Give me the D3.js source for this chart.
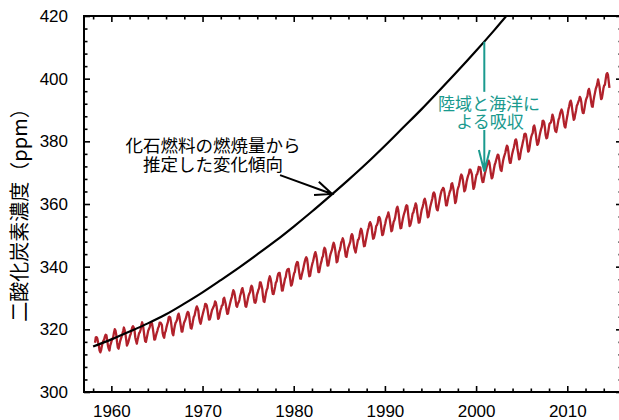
<!DOCTYPE html>
<html>
<head>
<meta charset="utf-8">
<script src="https://cdn.jsdelivr.net/npm/d3@7"></script>
<style>
  html, body { margin: 0; padding: 0; background: #fff; }
  svg { display: block; }
</style>
</head>
<body>
<svg id="chart" width="619" height="420"></svg>
<script>
// ---- Data ----
const co2StartYear = 1958;
const co2StartMonth = 3; // March 1958
const co2Monthly = [
  315.71,317.45,317.50,317.10,315.86,314.93,313.20,312.66,313.33,314.67,
  315.62,316.38,316.71,317.72,318.29,318.15,316.54,314.80,313.84,313.26,314.80,315.58,
  316.43,316.97,317.58,319.02,320.03,319.59,318.18,315.91,314.16,313.83,315.00,316.19,
  316.93,317.70,318.54,319.48,320.58,319.77,318.57,316.79,314.80,315.38,316.10,317.01,
  317.94,318.56,319.68,320.63,321.01,320.55,319.58,317.40,316.26,315.42,316.69,317.69,
  318.74,319.08,319.86,321.39,322.25,321.47,319.74,317.77,316.21,315.99,317.12,318.31,
  319.57,320.07,320.73,321.77,322.25,321.89,320.44,318.70,316.70,316.79,317.79,318.71,
  319.44,320.44,320.89,322.13,322.16,321.87,321.39,318.81,317.81,317.30,318.87,319.42,
  320.62,321.59,322.39,323.87,324.01,323.75,322.39,320.37,318.64,318.10,319.79,321.08,
  322.07,322.50,323.04,324.42,325.00,324.09,322.55,320.92,319.31,319.31,320.72,321.96,
  322.57,323.15,323.89,325.02,325.57,325.36,324.14,322.03,320.41,320.25,321.31,322.84,
  324.00,324.42,325.64,326.66,327.34,326.76,325.88,323.67,322.38,321.78,322.85,324.11,
  325.03,325.99,326.87,328.13,328.07,327.66,326.35,324.69,323.10,323.16,323.98,325.13,
  326.17,326.68,327.18,327.78,328.92,328.57,327.34,325.46,323.36,323.57,324.80,326.01,
  326.77,327.63,327.75,329.72,330.07,329.09,328.05,326.32,324.93,325.06,326.50,327.55,
  328.54,329.56,330.30,331.50,332.48,332.07,330.87,329.31,327.51,327.18,328.16,328.64,
  329.35,330.71,331.48,332.65,333.16,332.06,330.99,329.17,327.41,327.20,328.33,329.50,
  330.68,331.41,331.85,333.29,333.91,333.40,331.78,329.88,328.57,328.46,329.26,330.97,
  331.70,332.66,333.13,334.95,334.99,334.09,333.06,330.68,328.95,328.75,330.15,331.62,
  332.66,333.13,334.95,336.13,336.93,336.17,334.88,332.56,331.29,331.27,332.41,333.60,
  334.95,335.25,336.66,337.69,338.03,338.01,336.41,334.41,332.37,332.41,333.75,334.90,
  336.14,336.69,338.27,338.96,339.21,339.26,337.54,335.75,333.98,334.19,335.31,336.81,
  337.90,338.34,340.01,340.93,341.48,341.33,339.40,337.70,336.19,336.15,337.27,338.32,
  339.29,340.55,341.61,342.53,343.03,342.54,340.78,338.44,336.95,337.08,338.58,339.88,
  340.96,341.73,342.81,343.97,344.63,343.79,342.32,340.09,338.28,338.29,339.60,340.90,
  341.68,342.90,343.33,345.25,346.03,345.63,344.19,342.27,340.35,340.38,341.59,343.05,
  344.10,344.79,345.52,346.84,347.63,346.97,345.53,343.55,341.40,341.67,343.10,344.70,
  345.21,346.16,347.74,348.33,349.06,348.38,346.72,345.02,343.27,343.13,344.49,345.88,
  346.56,347.28,348.01,349.77,350.38,349.93,348.16,346.08,345.22,344.51,345.93,347.22,
  348.52,348.73,349.73,351.31,352.09,351.53,350.11,348.08,346.52,346.59,347.96,349.16,
  350.39,351.64,352.40,353.69,354.21,353.72,352.69,350.40,348.92,349.13,350.20,351.41,
  352.91,353.27,353.96,355.64,355.86,355.37,353.99,351.81,350.05,350.25,351.49,352.85,
  353.80,355.04,355.73,356.32,357.32,356.34,354.84,353.01,351.31,351.62,353.07,354.33,
  354.84,355.73,357.23,358.66,359.13,358.13,356.19,353.85,352.25,352.35,353.81,355.12,
  356.25,357.11,357.86,359.09,359.59,359.33,357.01,354.94,352.96,353.32,354.32,355.57,
  357.00,357.31,358.47,359.27,360.19,359.52,357.33,355.64,354.03,354.12,355.41,356.91,
  358.24,358.92,359.99,361.23,361.65,360.81,359.38,357.46,355.73,356.07,357.53,358.98,
  359.92,360.86,361.83,363.30,363.69,363.19,361.64,359.12,358.17,357.99,359.45,360.68,
  362.07,363.24,364.17,364.57,365.13,364.92,363.55,361.38,359.54,359.58,360.89,362.24,
  363.09,364.03,364.51,366.35,366.64,365.59,364.31,362.25,360.29,360.82,362.49,364.38,
  365.26,365.98,367.24,368.66,369.42,368.99,367.82,365.95,364.02,364.40,365.52,367.13,
  368.18,369.07,369.68,370.99,370.96,370.30,369.45,366.90,364.81,365.37,366.72,368.10,
  369.29,369.54,370.60,371.82,371.58,371.70,369.86,368.13,367.00,367.03,368.37,369.67,
  370.59,371.51,372.43,373.37,373.85,373.21,371.51,369.61,368.18,368.45,369.76,371.24,
  372.53,373.20,374.12,375.02,375.76,375.52,374.01,371.85,370.75,370.55,372.25,373.79,
  374.88,375.64,376.45,377.73,378.60,378.28,376.70,374.38,373.17,373.15,374.66,375.99,
  377.00,377.87,378.88,380.35,380.62,379.69,377.47,376.01,374.25,374.46,376.16,377.51,
  378.46,379.73,380.77,382.29,382.45,382.21,380.74,378.74,376.70,377.00,378.35,380.11,
  381.38,382.19,382.67,384.61,385.03,384.05,382.46,380.41,378.85,379.13,380.15,381.82,
  382.89,383.90,384.58,386.50,386.56,386.10,384.50,381.99,380.96,381.12,382.45,383.95,
  385.52,385.82,386.03,387.21,388.54,387.76,386.36,384.09,383.18,382.99,384.19,385.56,
  386.94,387.48,388.82,389.55,390.14,389.48,388.03,386.11,384.74,384.43,386.02,387.42,
  388.71,390.20,391.17,392.46,393.00,392.15,390.20,388.35,386.85,387.24,388.67,389.79,
  391.33,391.86,392.60,393.25,394.19,393.74,392.51,390.13,389.08,389.00,390.28,391.86,
  393.12,393.86,394.40,396.18,396.74,395.71,394.36,392.39,391.11,391.05,392.98,394.34,
  395.55,396.80,397.43,398.41,399.78,398.60,397.32,395.20,393.45,393.70,395.16,396.84,
  397.85,398.01,399.77,401.38,401.78,401.25,399.10,397.03
];

const fossilYears = [1958,1960,1962,1964,1966,1968,1970,1972,1974,1976,1978,1980,1982,1984,1986,1988,1990,1992,1994,1996,1998,2000,2002,2004];
const fossilPpm   = [314.5,316.8,319.3,321.9,324.8,328.2,331.8,335.7,339.7,343.9,348.2,352.8,357.6,362.6,367.7,373.0,378.6,384.4,390.2,396.3,402.5,408.9,415.5,422.4];

const xTickLabels = [1960,1970,1980,1990,2000,2010];
const yTickLabels = [300,320,340,360,380,400,420];

const yTitle = "二酸化炭素濃度（ppm）";
const fossilLabel = ["化石燃料の燃焼量から", "推定した変化傾向"];
const sinkLabel = ["陸域と海洋に", "よる吸収"];

// ---- Chart ----
const svg = d3.select("#chart");
const L = 84, R = 622, T = 16, B = 392;
const x = d3.scaleLinear().domain([1957, 2016]).range([L, R]);
const y = d3.scaleLinear().domain([300, 420]).range([B, T]);

const numFont = "'Liberation Sans', Arial, Helvetica, sans-serif";
const jpFont = "'Noto Sans CJK JP', 'Noto Sans', sans-serif";

svg.append("defs").append("clipPath").attr("id", "plotclip")
  .append("rect").attr("x", L).attr("y", T).attr("width", R - L).attr("height", B - T);

// Red monthly CO2 line
const co2Data = co2Monthly.map((v, i) => ({
  t: co2StartYear + (co2StartMonth - 1 + i + 0.5) / 12,
  v
}));
svg.append("path")
  .datum(co2Data)
  .attr("clip-path", "url(#plotclip)")
  .attr("fill", "none")
  .attr("stroke", "#b1212b")
  .attr("stroke-width", 2.3)
  .attr("stroke-linejoin", "round")
  .attr("d", d3.line().x(d => x(d.t)).y(d => y(d.v)));

// Black fossil-fuel trend line
const fossilData = fossilYears.map((yr, i) => ({ t: yr, v: fossilPpm[i] }));
svg.append("path")
  .datum(fossilData)
  .attr("clip-path", "url(#plotclip)")
  .attr("fill", "none")
  .attr("stroke", "#000")
  .attr("stroke-width", 2.2)
  .attr("d", d3.line().curve(d3.curveMonotoneX).x(d => x(d.t)).y(d => y(d.v)));

// Axes (inward ticks)
function styleAxis(g) {
  g.select(".domain").remove();
  g.selectAll(".tick line").attr("stroke", "#000").attr("stroke-width", 1.6);
  g.selectAll("text").attr("font-family", numFont).attr("font-size", 17).attr("fill", "#000");
}
const xMinor = d3.range(1958, 2017, 2).filter(v => !xTickLabels.includes(v));
const yMinor = d3.range(300, 421, 4).filter(v => !yTickLabels.includes(v));

svg.append("g").attr("transform", `translate(0,${B})`)
  .call(d3.axisBottom(x).tickValues(xTickLabels).tickFormat(d3.format("d")).tickSize(-6).tickPadding(13))
  .call(styleAxis);
svg.append("g").attr("transform", `translate(0,${B})`)
  .call(d3.axisBottom(x).tickValues(xMinor).tickFormat("").tickSize(-3.5))
  .call(styleAxis);
svg.append("g").attr("transform", `translate(0,${T})`)
  .call(d3.axisTop(x).tickValues(xTickLabels).tickFormat("").tickSize(-6))
  .call(styleAxis);
svg.append("g").attr("transform", `translate(0,${T})`)
  .call(d3.axisTop(x).tickValues(xMinor).tickFormat("").tickSize(-3.5))
  .call(styleAxis);

svg.append("g").attr("transform", `translate(${L},0)`)
  .call(d3.axisLeft(y).tickValues(yTickLabels).tickSize(-6).tickPadding(16))
  .call(styleAxis);
svg.append("g").attr("transform", `translate(${L},0)`)
  .call(d3.axisLeft(y).tickValues(yMinor).tickFormat("").tickSize(-3.5))
  .call(styleAxis);
svg.append("g").attr("transform", `translate(${R},0)`)
  .call(d3.axisRight(y).tickValues(yTickLabels).tickFormat("").tickSize(-6))
  .call(styleAxis);
svg.append("g").attr("transform", `translate(${R},0)`)
  .call(d3.axisRight(y).tickValues(yMinor).tickFormat("").tickSize(-3.5))
  .call(styleAxis);

// Frame
svg.append("rect")
  .attr("x", L).attr("y", T).attr("width", R - L).attr("height", B - T)
  .attr("fill", "none").attr("stroke", "#000").attr("stroke-width", 2);

// Y title
svg.append("text")
  .attr("transform", `translate(27,210) rotate(-90)`)
  .attr("text-anchor", "middle")
  .attr("font-family", jpFont)
  .attr("font-size", 20)
  .attr("fill", "#000")
  .text(yTitle);

// Fossil label + arrow
const fl = svg.append("text")
  .attr("text-anchor", "middle")
  .attr("font-family", jpFont)
  .attr("font-size", 17.5)
  .attr("fill", "#000");
fl.append("tspan").attr("x", 213).attr("y", 151.5).text(fossilLabel[0]);
fl.append("tspan").attr("x", 213).attr("y", 170.5).text(fossilLabel[1]);

function arrow(x1, y1, x2, y2, color, width, headLen, headAng) {
  const a = Math.atan2(y2 - y1, x2 - x1);
  const p1 = [x2 - headLen * Math.cos(a - headAng), y2 - headLen * Math.sin(a - headAng)];
  const p2 = [x2 - headLen * Math.cos(a + headAng), y2 - headLen * Math.sin(a + headAng)];
  svg.append("path")
    .attr("d", `M${x1},${y1}L${x2},${y2}M${p1[0]},${p1[1]}L${x2},${y2}L${p2[0]},${p2[1]}`)
    .attr("fill", "none").attr("stroke", color).attr("stroke-width", width)
    .attr("stroke-linecap", "butt").attr("stroke-linejoin", "miter");
}
arrow(x(1978.5), y(369.2), x(1984.2), y(363.2), "#000", 2, 18, 0.4);

// Sink label + arrow
const teal = "#1a9a8e";
const sx = x(2000.9);
svg.append("line")
  .attr("x1", sx).attr("x2", sx).attr("y1", y(411.8)).attr("y2", y(395.8))
  .attr("stroke", teal).attr("stroke-width", 2);
arrow(sx, y(383.6), sx, y(370.4), teal, 2, 22, 0.25);
const sl = svg.append("text")
  .attr("text-anchor", "middle")
  .attr("font-family", jpFont)
  .attr("font-size", 17)
  .attr("fill", teal);
sl.append("tspan").attr("x", 489).attr("y", 109.5).text(sinkLabel[0]);
sl.append("tspan").attr("x", 490).attr("y", 127.5).text(sinkLabel[1]);
</script>
</body>
</html>
